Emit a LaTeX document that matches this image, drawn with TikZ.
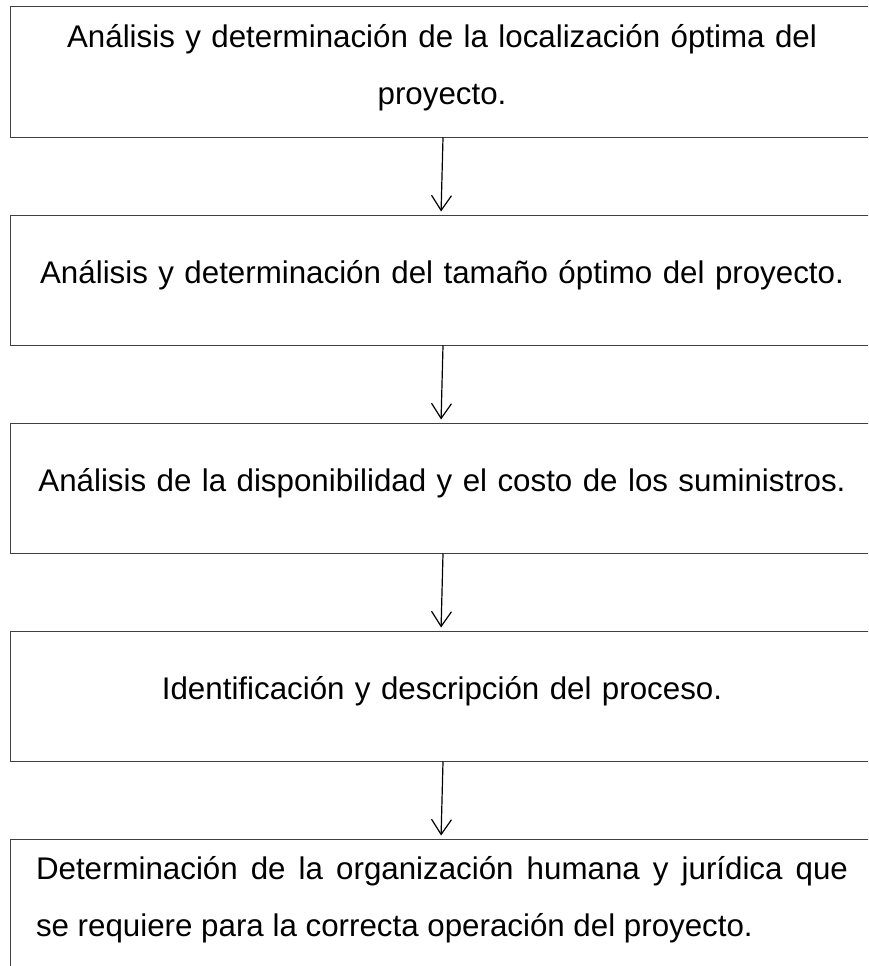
\documentclass[tikz,border=0pt]{standalone}
\usepackage{fontspec}
\setmainfont{Liberation Sans}
\usetikzlibrary{positioning,arrows.meta}
\tikzset{
  >={Straight Barb[length=15pt,width=20pt]},
}
\tikzstyle{etapa}=[draw=black!75,line width=1pt,text width=812pt,inner xsep=26pt,minimum height=130pt,align=center,execute at end node={\rule[-16pt]{0pt}{0pt}}]
\tikzstyle{flecha}=[->,line width=1.2pt,shorten >=3pt]
\tikzstyle{every node}=[font=\fontsize{31.3}{57}\selectfont]
\hyphenpenalty=10000

\begin{document}
\begin{tikzpicture}
    \useasboundingbox (0,0) rectangle (868pt,-966pt);
    \clip (0,0) rectangle (868pt,-966pt);
    \node[etapa] (loc) at (442pt,-72pt) {Análisis y determinación de la localización óptima del\\proyecto.};
    \node[etapa,below=77pt of loc] (tam) {Análisis y determinación del tamaño óptimo del proyecto.};
    \node[etapa,below=77pt of tam] (sum) {Análisis de la disponibilidad y el costo de los suministros.};
    \node[etapa,below=77pt of sum] (proc) {Identificación y descripción del proceso.};
    \node[etapa,below=77pt of proc,align=justify] (org) {Determinación de la organización humana y jurídica que\linebreak se requiere para la correcta operación del proyecto.};
    % flechas entre etapas
    \draw[flecha] ([xshift=1pt]loc.south) -- ([xshift=-1pt]tam.north);
    \draw[flecha] ([xshift=1pt]tam.south) -- ([xshift=-1pt]sum.north);
    \draw[flecha] ([xshift=1pt]sum.south) -- ([xshift=-1pt]proc.north);
    \draw[flecha] ([xshift=1pt]proc.south) -- ([xshift=-1pt]org.north);
  \end{tikzpicture}
\end{document}
